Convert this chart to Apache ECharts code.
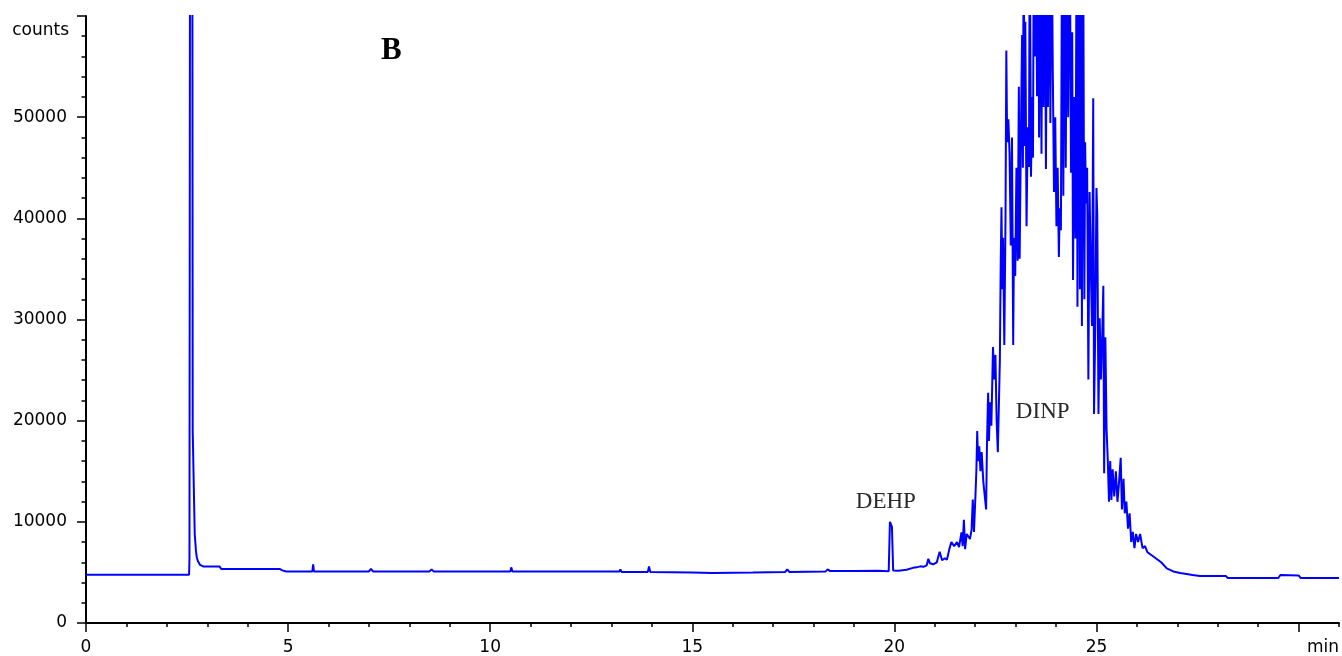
<!DOCTYPE html>
<html>
<head>
<meta charset="utf-8">
<script src="https://cdn.jsdelivr.net/npm/echarts@6/dist/echarts.min.js"></script>
<style>
  html, body { margin: 0; padding: 0; background: #fff; }
  #main { width: 1342px; height: 656px; }
</style>
</head>
<body>
<div id="main"></div>
<script>
// chromatogram trace, [time (min), counts]
const baselineTrace = [
  [0, 4770], [2.55, 4770], [2.56, 6300], [2.57, 6300],
  [2.575, 75000], [2.63, 75000], [2.64, 19000], [2.68, 19000],
  [2.69, 8800], [2.71, 8800], [2.72, 7150], [2.74, 6500], [2.77, 6100],
  [2.82, 5750], [2.9, 5590], [3.3, 5590], [3.35, 5330], [4.8, 5330],
  [4.83, 5500], [4.86, 5200], [4.95, 5090], [5.6, 5100], [5.62, 5800],
  [5.64, 5100], [7.0, 5100], [7.05, 5350], [7.1, 5100], [8.5, 5100],
  [8.55, 5300], [8.6, 5100], [10.5, 5100], [10.52, 5500], [10.55, 5100],
  [13.2, 5100], [13.22, 5300], [13.25, 5050], [13.9, 5050], [13.93, 5600],
  [13.96, 5050], [15.0, 5000], [15.5, 4950], [16.5, 5000], [17.3, 5050],
  [17.35, 5300], [17.4, 5050], [18.3, 5100], [18.35, 5300], [18.4, 5150],
  [19.0, 5150], [19.6, 5170]
]

const dehpTrace = [
  [19.86, 5120], [19.88, 5300], [19.89, 10000], [19.93, 10000], [19.94, 9500],
  [19.96, 9500], [19.97, 5200], [20.1, 5170], [20.3, 5260], [20.46, 5450],
  [20.55, 5500], [20.64, 5600], [20.72, 5550], [20.8, 5700], [20.84, 6350],
  [20.88, 5900], [20.96, 5800], [21.05, 6000], [21.12, 7050], [21.18, 6200],
  [21.25, 6400], [21.3, 6250], [21.36, 7300], [21.41, 8000], [21.48, 7600],
  [21.55, 8000], [21.6, 7500], [21.66, 8950], [21.69, 7600], [21.72, 10200],
  [21.75, 7300], [21.79, 8800], [21.83, 8900], [21.87, 8300], [21.91, 9200],
  [21.94, 12200], [21.97, 9000]
]

const dinpTrace = [
  [22.01, 13000], [22.03, 15190], [22.05, 18970], [22.07, 16000], [22.1, 17460],
  [22.13, 15000], [22.16, 16900], [22.2, 14000], [22.27, 11220], [22.29, 17460],
  [22.32, 22750], [22.34, 18000], [22.37, 21810], [22.4, 19500], [22.44, 27290],
  [22.47, 24080], [22.5, 26500], [22.53, 20000], [22.56, 16890], [22.59, 16890],
  [22.61, 26000], [22.63, 35050], [22.65, 41100], [22.67, 33000], [22.69, 38070],
  [22.72, 27480], [22.75, 40000], [22.77, 56600], [22.79, 47530], [22.82, 49800],
  [22.85, 46390], [22.88, 37320], [22.91, 48000], [22.94, 27480], [22.96, 38070],
  [22.99, 34290], [23.02, 45000], [23.05, 35800], [23.08, 53000], [23.1, 36000],
  [23.13, 48000], [23.16, 58120], [23.18, 45000], [23.2, 70000], [23.22, 47150],
  [23.24, 59440], [23.27, 39210], [23.3, 49000], [23.33, 45070], [23.35, 70000],
  [23.38, 44120], [23.41, 52000], [23.43, 46000], [23.45, 70000], [23.48, 56000],
  [23.5, 70000], [23.53, 52060], [23.56, 70000], [23.58, 48000], [23.61, 70000],
  [23.64, 46390], [23.66, 68000], [23.69, 51000], [23.72, 70000], [23.75, 44880],
  [23.78, 70000], [23.8, 51000], [23.83, 68000], [23.86, 49420], [23.89, 70000],
  [23.92, 54330], [23.95, 42610], [23.98, 50000], [24.01, 39210], [24.04, 45000],
  [24.07, 36180], [24.09, 41000], [24.12, 38830], [24.15, 70000], [24.18, 42230],
  [24.21, 70000], [24.24, 45000], [24.27, 68000], [24.3, 50000], [24.34, 70000],
  [24.37, 44500], [24.4, 58400], [24.42, 33910], [24.45, 52000], [24.48, 38000],
  [24.51, 70000], [24.53, 31260], [24.56, 70000], [24.59, 33000], [24.62, 70000],
  [24.64, 29370], [24.67, 70000], [24.7, 32000], [24.72, 47530], [24.74, 41480],
  [24.77, 45000], [24.8, 24080], [24.83, 42610], [24.86, 35000], [24.89, 29370],
  [24.92, 51870], [24.94, 20670], [24.97, 29000], [25.0, 42990], [25.02, 40340],
  [25.05, 20670], [25.08, 30130], [25.11, 24080], [25.14, 28000], [25.17, 33340],
  [25.19, 14810], [25.22, 28240], [25.25, 19160], [25.28, 16140], [25.31, 11980],
  [25.34, 16000], [25.37, 12170], [25.4, 15190], [25.44, 12500], [25.48, 15000],
  [25.52, 11980], [25.56, 14000], [25.6, 16330], [25.63, 11220], [25.67, 14250],
  [25.7, 10840], [25.74, 12000], [25.78, 9330], [25.82, 10840], [25.86, 8000],
  [25.9, 9000], [25.94, 7400], [25.98, 8800]
]

const tailTrace = [
  [26.03, 8000], [26.08, 8800], [26.14, 7400], [26.2, 7600], [26.26, 7000],
  [26.33, 6800], [26.4, 6600], [26.5, 6300], [26.6, 6000], [26.74, 5400],
  [26.9, 5100], [27.07, 4950], [27.38, 4750], [27.56, 4650], [28.2, 4650],
  [28.25, 4450], [29.5, 4450], [29.55, 4750], [30.0, 4700], [30.05, 4450],
  [31.0, 4450]
]

const xTickLabels = [0, 5, 10, 15, 20, 25]
const xMajorTicks = [0, 5, 10, 15, 20, 25, 30]
const peakNames = ['DEHP', 'DINP']
const peakLabelTimes = [19.79, 23.67]
const peakLabelCounts = [11970, 20860]

const trace = baselineTrace.concat(dehpTrace, dinpTrace, tailTrace)

const chart = echarts.init(document.getElementById('main'))

const labelFont = {
  color: '#000',
  fontFamily: 'DejaVu Sans',
  fontSize: 17
}
const axisBlack = { color: '#000', width: 2 }

chart.setOption({
  animation: false,
  backgroundColor: '#fff',
  title: {
    text: 'B',
    left: 376,
    top: 30,
    textStyle: {
      fontFamily: 'Liberation Serif',
      fontWeight: 'bold',
      fontSize: 31,
      color: '#000'
    }
  },
  grid: {
    left: 86,
    right: 3,
    top: 16,
    bottom: 33
  },
  xAxis: [
    {
      type: 'value',
      position: 'bottom',
      min: 0,
      max: 31,
      interval: 5,
      name: 'min',
      nameLocation: 'end',
      nameGap: -16,
      nameTextStyle: Object.assign({}, labelFont, {
        align: 'center',
        verticalAlign: 'top',
        padding: [16, 0, 0, 0]
      }),
      axisLine: { show: true, lineStyle: axisBlack },
      axisTick: {
        show: true,
        length: 9,
        customValues: xMajorTicks,
        lineStyle: { color: '#000', width: 1.5 }
      },
      axisLabel: Object.assign({}, labelFont, {
        margin: 16,
        customValues: xTickLabels,
        formatter: v => String(v)
      }),
      splitLine: { show: false }
    },
    {
      // short 1 min ticks
      type: 'value',
      position: 'bottom',
      min: 0,
      max: 31,
      interval: 1,
      axisLine: { show: false },
      axisTick: { show: true, length: 4, lineStyle: { color: '#000', width: 1.5 } },
      axisLabel: { show: false },
      splitLine: { show: false }
    }
  ],
  yAxis: {
    type: 'value',
    min: 0,
    max: 60000,
    interval: 10000,
    name: 'counts',
    nameLocation: 'end',
    nameGap: -23,
    nameTextStyle: Object.assign({}, labelFont, {
      align: 'right',
      padding: [0, 17, 0, 0]
    }),
    axisLine: { show: true, lineStyle: axisBlack },
    axisTick: { show: true, length: 9, lineStyle: { color: '#000', width: 1.5 } },
    minorTick: { show: true, splitNumber: 5, length: 4.5, lineStyle: { color: '#000', width: 1.5 } },
    axisLabel: Object.assign({}, labelFont, {
      margin: 19,
      formatter: v => (v >= 60000 ? '' : String(v))
    }),
    splitLine: { show: false },
    minorSplitLine: { show: false }
  },
  series: [
    {
      type: 'line',
      xAxisIndex: 0,
      data: trace,
      showSymbol: false,
      clip: true,
      lineStyle: { color: '#0000ff', width: 2 },
      itemStyle: { color: '#0000ff' },
      markPoint: {
        symbol: 'rect',
        symbolSize: 1,
        itemStyle: { color: 'rgba(0,0,0,0)' },
        label: {
          show: true,
          position: 'inside',
          formatter: p => p.name,
          fontFamily: 'Liberation Serif',
          fontSize: 23,
          color: '#2a2a2a'
        },
        data: peakNames.map((name, i) => ({
          name: name,
          coord: [peakLabelTimes[i], peakLabelCounts[i]]
        }))
      }
    }
  ]
})
</script>
</body>
</html>
